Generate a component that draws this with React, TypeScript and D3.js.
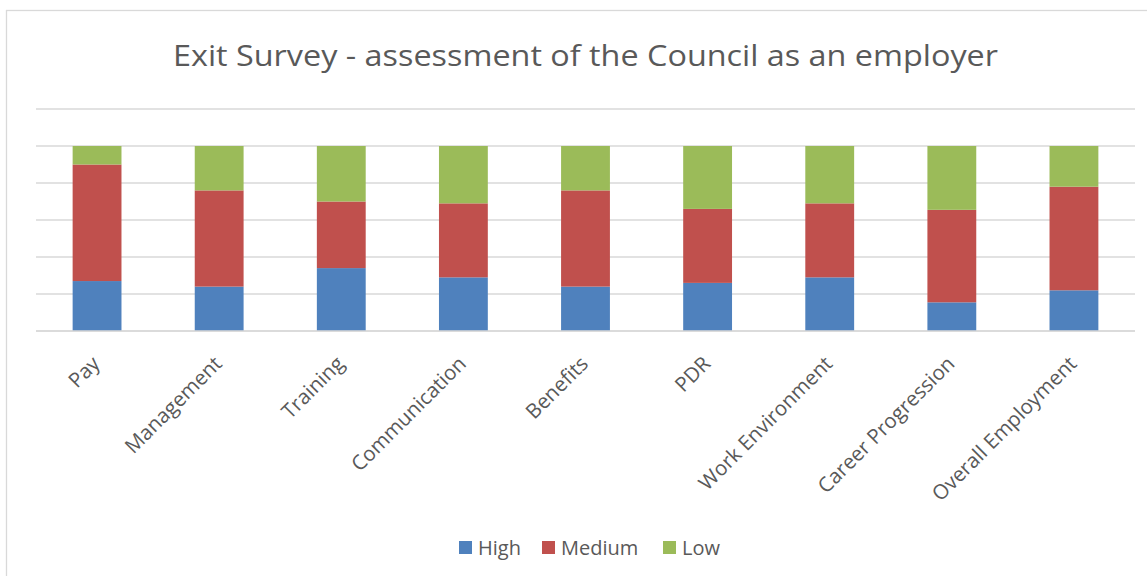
import React from "react";
import * as d3 from "d3";

const categories = [
  "Pay",
  "Management",
  "Training",
  "Communication",
  "Benefits",
  "PDR",
  "Work Environment",
  "Career Progression",
  "Overall Employment",
];
const seriesNames = ["High", "Medium", "Low"];
const high = [27, 24, 34, 29, 24, 26, 29, 15.5, 22];
const medium = [63, 52, 36, 40, 52, 40, 40, 50, 56];
const low = [10, 24, 30, 31, 24, 34, 31, 34.5, 22];
const colors = ["#4F81BD", "#C0504D", "#9BBB59"];
const gridTicks = [0, 0.2, 0.4, 0.6, 0.8, 1.0, 1.2];
const title = "Exit Survey - assessment of the Council as an employer";

const W = 1147;
const H = 576;
const FONT = "'Open Sans', 'DejaVu Sans', sans-serif";

export default function App() {
  const rows = categories.map((c, i) => {
    const total = high[i] + medium[i] + low[i];
    return {
      category: c,
      High: high[i] / total,
      Medium: medium[i] / total,
      Low: low[i] / total,
    };
  });
  const stacked = d3.stack<any>().keys(seriesNames)(rows);

  const x = d3
    .scaleBand<string>()
    .domain(categories)
    .range([36, 1135])
    .paddingInner(0.6)
    .paddingOuter(0.3);
  const y = d3.scaleLinear().domain([0, 1.2]).range([331, 109]);

  const legendX = [459, 542, 663];

  return (
    <svg
      width={W}
      height={H}
      style={{ position: "absolute", left: 0, top: 0, background: "#fff" }}
    >
      <rect x={0} y={0} width={W} height={H} fill="#fff" />
      <rect
        x={6.5}
        y={10.5}
        width={W + 10}
        height={H + 10}
        fill="none"
        stroke="#d9d9d9"
        strokeWidth={1.3}
      />
      <text
        x={585.5}
        y={66}
        textAnchor="middle"
        fontFamily={FONT}
        fontSize={30}
        textLength={825}
        lengthAdjust="spacingAndGlyphs"
        fill="#595959"
      >
        {title}
      </text>
      {gridTicks.map((t) => (
        <line
          key={t}
          x1={36}
          x2={1135}
          y1={y(t)}
          y2={y(t)}
          stroke="#d9d9d9"
          strokeWidth={1.3}
        />
      ))}
      {stacked.map((s, si) => (
        <g key={s.key} fill={colors[si]}>
          {s.map((d, i) => (
            <rect
              key={i}
              x={x(categories[i])}
              width={x.bandwidth()}
              y={y(d[1])}
              height={y(d[0]) - y(d[1])}
            />
          ))}
        </g>
      ))}
      <line x1={36} x2={1135} y1={y(0)} y2={y(0)} stroke="#d9d9d9" strokeWidth={1.3} />
      {categories.map((c) => {
        const cx = (x(c) as number) + x.bandwidth() / 2;
        return (
          <text
            key={c}
            transform={`translate(${cx + 4},${365}) rotate(-45)`}
            textAnchor="end"
            fontFamily={FONT}
            fontSize={20.5}
            fill="#595959"
          >
            {c}
          </text>
        );
      })}
      {seriesNames.map((name, i) => (
        <g key={name}>
          <rect x={legendX[i]} y={541} width={13} height={13} fill={colors[i]} />
          <text
            x={legendX[i] + 19}
            y={555}
            fontFamily={FONT}
            fontSize={20}
            fill="#595959"
          >
            {name}
          </text>
        </g>
      ))}
    </svg>
  );
}
